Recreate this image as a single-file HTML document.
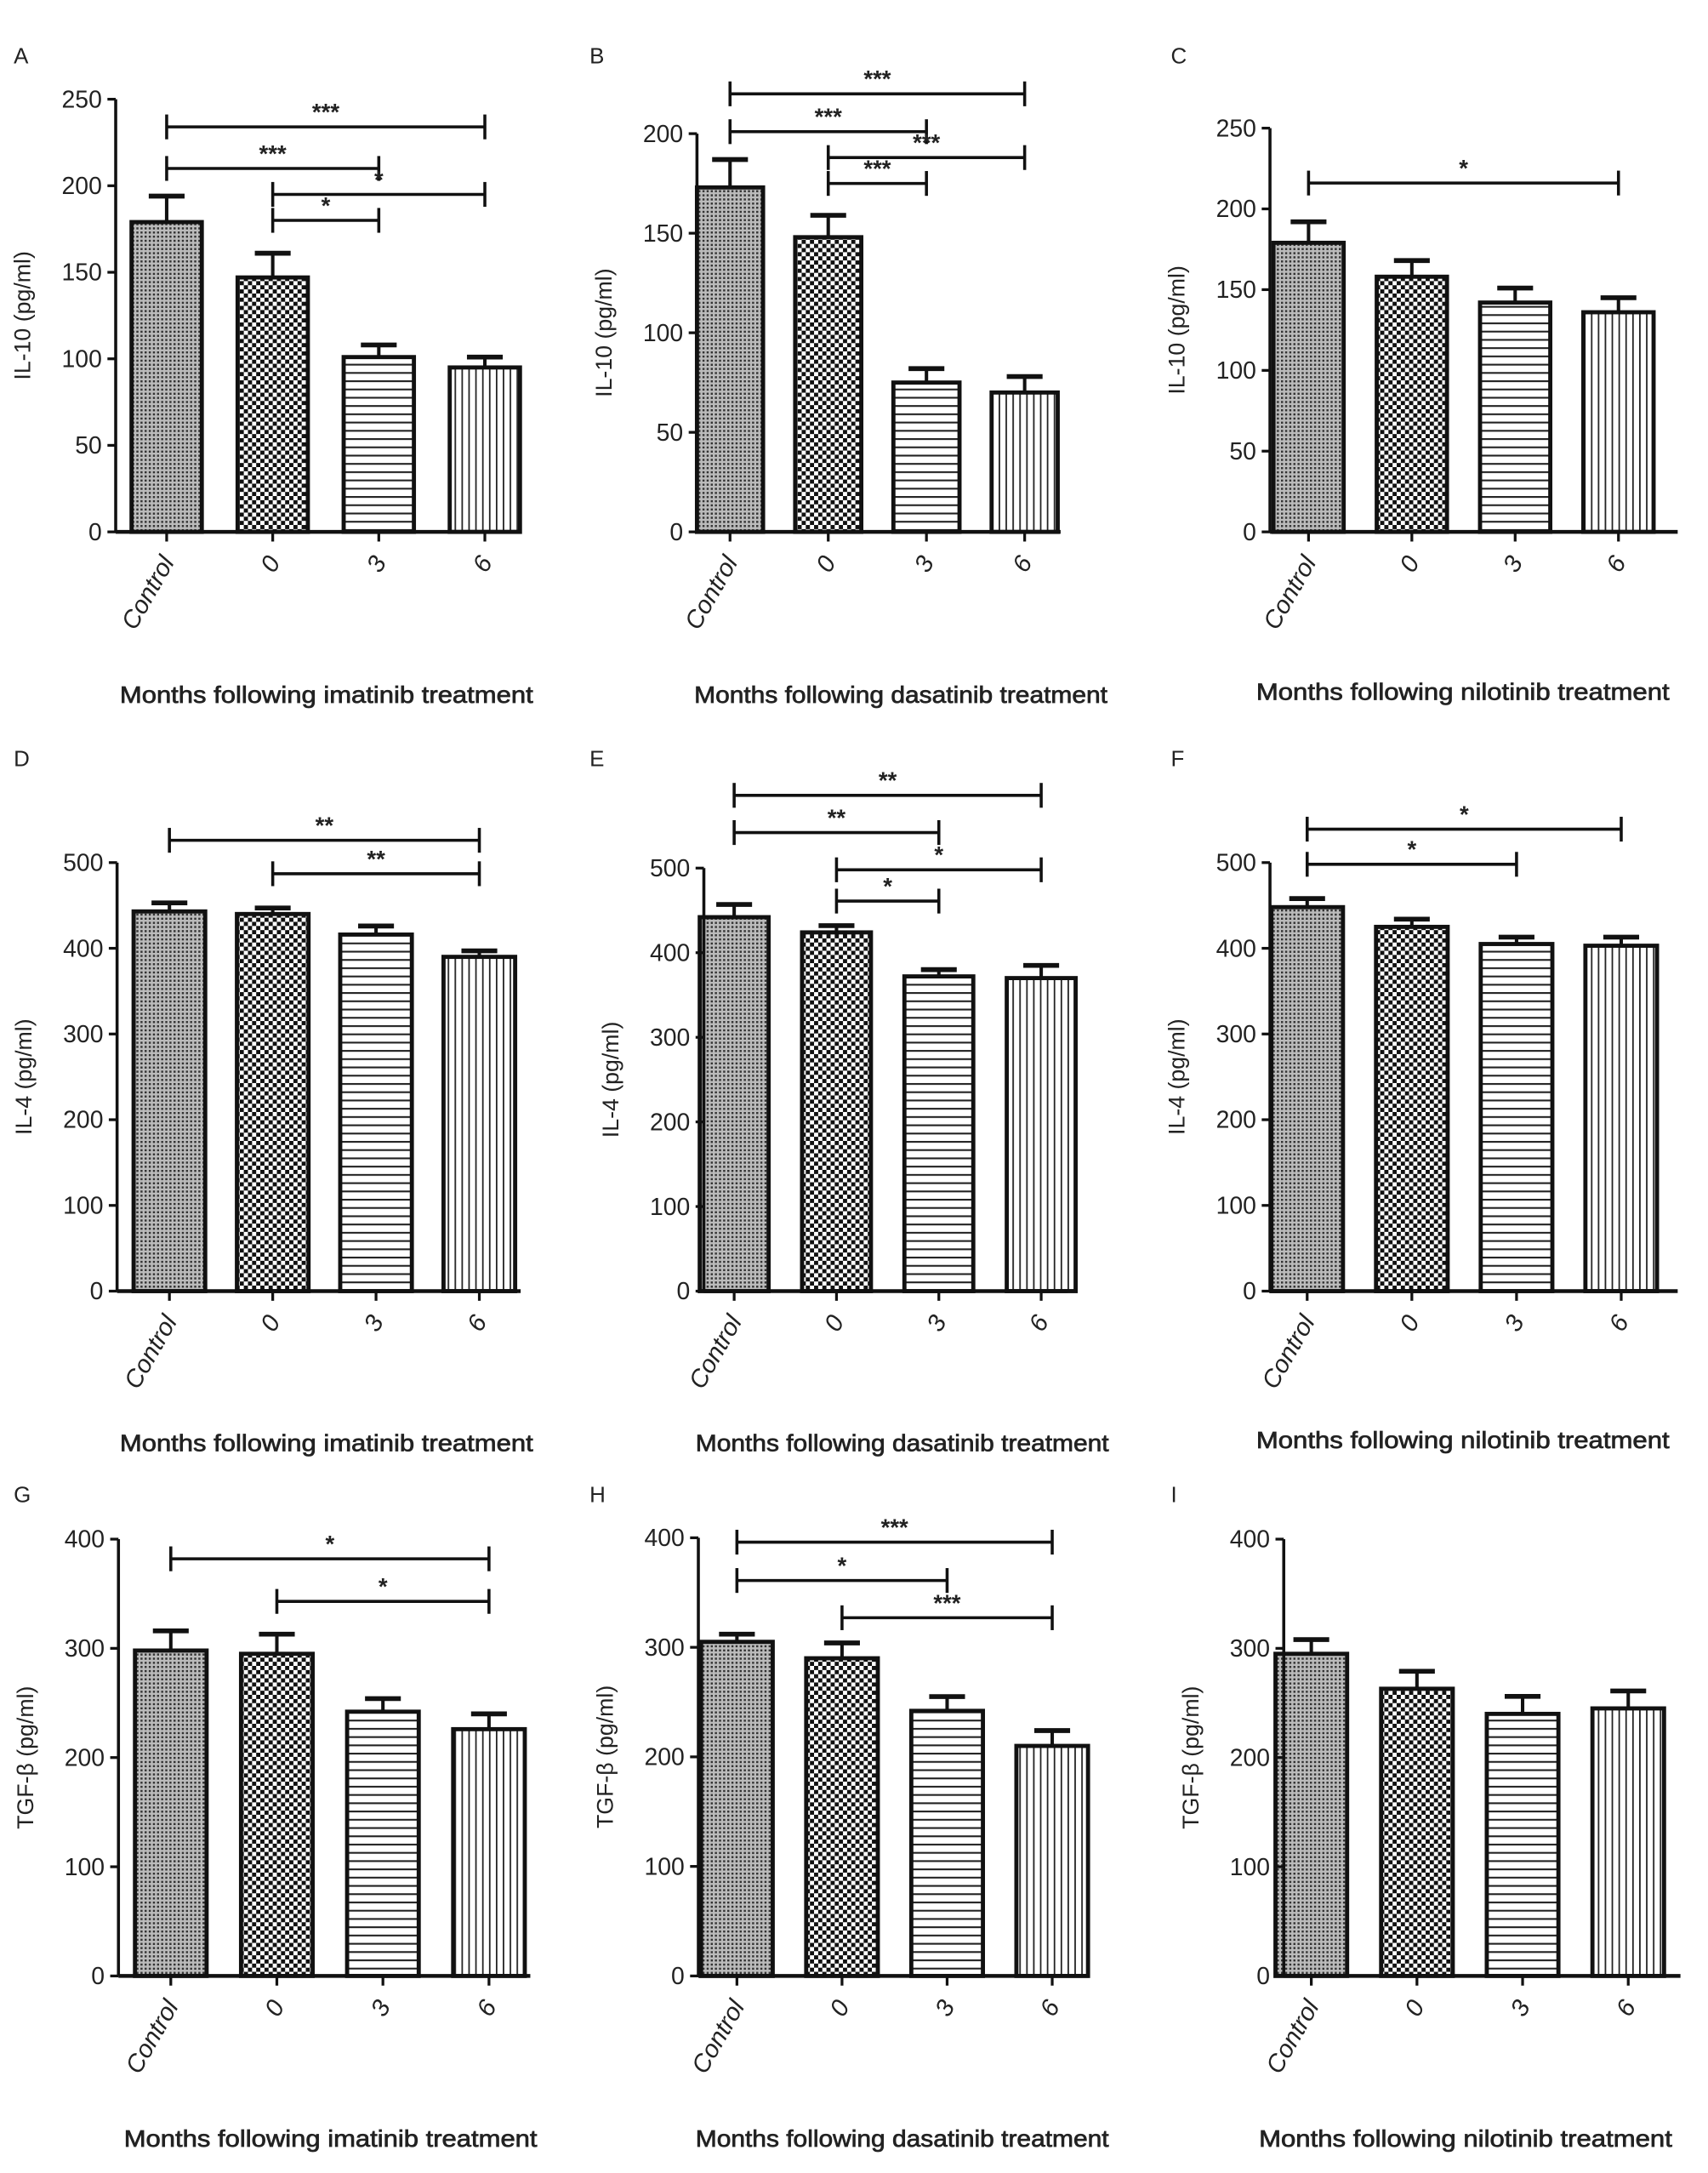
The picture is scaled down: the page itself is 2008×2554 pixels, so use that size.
<!DOCTYPE html>
<html><head><meta charset="utf-8"><style>
html,body{margin:0;padding:0;background:#fff;}
svg{display:block;}
text{font-family:"Liberation Sans",Arial,sans-serif;fill:#222;}
</style></head>
<body>
<svg id="fig" width="2008" height="2554" viewBox="0 0 1240 1577" preserveAspectRatio="none" xmlns="http://www.w3.org/2000/svg">
<defs>
<pattern id="pCtrl" width="3" height="3" patternUnits="userSpaceOnUse"><rect width="3" height="3" fill="#bbb"/><rect width="1.5" height="1.5" fill="#333"/></pattern>
<pattern id="pZero" width="6" height="6" patternUnits="userSpaceOnUse"><rect width="6" height="6" fill="#fff"/><rect width="3" height="3" fill="#111"/><rect x="3" y="3" width="3" height="3" fill="#111"/></pattern>
<pattern id="pThree" width="6" height="6" patternUnits="userSpaceOnUse"><rect width="6" height="6" fill="#fff"/><rect y="0" width="6" height="1.3" fill="#222"/></pattern>
<pattern id="pSix" width="5" height="5" patternUnits="userSpaceOnUse"><rect width="5" height="5" fill="#fff"/><rect x="0" width="1.1" height="5" fill="#222"/></pattern>
</defs>
</svg>
<script>
const categories = ["Control","0","3","6"];
const valsA=[179,147,101,95], errA=[15,14,7,6];
const valsB=[173,148,75,70], errB=[14,11,7,8];
const valsC=[179,158,142,136], errC=[13,10,9,9];
const valsD=[443,440,416,390], errD=[10,7,10,7];
const valsE=[442,424,372,370], errE=[15,8,8,15];
const valsF=[448,425,405,403], errF=[10,9,8,10];
const valsG=[298,295,242,226], errG=[18,18,12,14];
const valsH=[305,290,242,210], errH=[7,14,13,14];
const valsI=[295,263,240,245], errI=[13,16,16,16];
const ticksA=[0,50,100,150,200,250], ticksB=[0,50,100,150,200], ticksC=[0,50,100,150,200,250];
const ticks4=[0,100,200,300,400,500], ticksT=[0,100,200,300,400];
// brackets: [fromIndex, toIndex, yValue, label]
const sigA=[[0,3,234,"***"],[0,2,210,"***"],[1,3,195,"*"],[1,2,180,"*"]];
const sigB=[[0,3,220,"***"],[0,2,201,"***"],[1,3,188,"***"],[1,2,175,"***"]];
const sigC=[[0,3,216,"*"]];
const sigD=[[0,3,526,"**"],[1,3,487,"**"]];
const sigE=[[0,3,586,"**"],[0,2,542,"**"],[1,3,498,"*"],[1,2,461,"*"]];
const sigF=[[0,3,539,"*"],[0,2,498,"*"]];
const sigG=[[0,3,382,"*"],[1,3,343,"*"]];
const sigH=[[0,3,396,"***"],[0,2,361,"*"],[1,3,327,"***"]];
const sigI=[];

const panels=[
 {L:"A",ax:84,y0:386,yTop:72,max:250,xEnd:378,c0:121,dc:77,bw:51,v:valsA,e:errA,t:ticksA,s:sigA,yt:"IL-10 (pg/ml)",xt:"Months following imatinib treatment",lx:10,ly:46,xty:510,xtc:237},
 {L:"B",ax:506,y0:386,yTop:97,max:200,xEnd:770,c0:530,dc:71.3,bw:48,v:valsB,e:errB,t:ticksB,s:sigB,yt:"IL-10 (pg/ml)",xt:"Months following dasatinib treatment",lx:428,ly:46,xty:510,xtc:654},
 {L:"C",ax:922,y0:386,yTop:93,max:250,xEnd:1218,c0:950,dc:75,bw:51,v:valsC,e:errC,t:ticksC,s:sigC,yt:"IL-10 (pg/ml)",xt:"Months following nilotinib treatment",lx:850,ly:46,xty:508,xtc:1062},
 {L:"D",ax:85,y0:937,yTop:626,max:500,xEnd:378,c0:123,dc:75,bw:52,v:valsD,e:errD,t:ticks4,s:sigD,yt:"IL-4 (pg/ml)",xt:"Months following imatinib treatment",lx:10,ly:556,xty:1053,xtc:237},
 {L:"E",ax:511,y0:937,yTop:630,max:500,xEnd:775,c0:533,dc:74.3,bw:50,v:valsE,e:errE,t:ticks4,s:sigE,yt:"IL-4 (pg/ml)",xt:"Months following dasatinib treatment",lx:428,ly:556,xty:1053,xtc:655},
 {L:"F",ax:922,y0:937,yTop:626,max:500,xEnd:1218,c0:949,dc:76,bw:52,v:valsF,e:errF,t:ticks4,s:sigF,yt:"IL-4 (pg/ml)",xt:"Months following nilotinib treatment",lx:850,ly:556,xty:1051,xtc:1062},
 {L:"G",ax:86,y0:1434,yTop:1117,max:400,xEnd:385,c0:124,dc:77,bw:52,v:valsG,e:errG,t:ticksT,s:sigG,yt:"TGF-β (pg/ml)",xt:"Months following imatinib treatment",lx:10,ly:1090,xty:1558,xtc:240},
 {L:"H",ax:507,y0:1434,yTop:1116,max:400,xEnd:790,c0:535,dc:76.3,bw:52,v:valsH,e:errH,t:ticksT,s:sigH,yt:"TGF-β (pg/ml)",xt:"Months following dasatinib treatment",lx:428,ly:1090,xty:1558,xtc:655},
 {L:"I",ax:932,y0:1434,yTop:1117,max:400,xEnd:1220,c0:952,dc:76.7,bw:52,v:valsI,e:errI,t:ticksT,s:sigI,yt:"TGF-β (pg/ml)",xt:"Months following nilotinib treatment",lx:850,ly:1090,xty:1558,xtc:1064}
];
const fills=["url(#pCtrl)","url(#pZero)","url(#pThree)","url(#pSix)"];
const NS="http://www.w3.org/2000/svg";
const svg=document.getElementById("fig");
function mk(tag,attrs,parent,txt){const el=document.createElementNS(NS,tag);for(const k in attrs)el.setAttribute(k,attrs[k]);if(txt!==undefined)el.textContent=txt;parent.appendChild(el);return el;}

panels.forEach(p=>{
 const yS=v=>p.y0-(v/p.max)*(p.y0-p.yTop);
 const xS=i=>p.c0+i*p.dc;
 const g=mk("g",{},svg);
 
 
 const lt=mk("text",{x:p.lx,y:p.ly,"font-size":16},g,p.L);
 
 
 p.v.forEach((v,i)=>{
  const x=xS(i), top=yS(v), et=yS(v+p.e[i]);
  const eb=mk("g",{},g);
  
  
  mk("line",{x1:x,y1:top,x2:x,y2:et,stroke:"#111","stroke-width":2.5},eb);
  mk("line",{x1:x-13,y1:et,x2:x+13,y2:et,stroke:"#111","stroke-width":3.5},eb);
  const r=mk("rect",{x:x-p.bw/2,y:top,width:p.bw,height:p.y0-top,fill:fills[i],stroke:"#111","stroke-width":3},g);
  
  
 });
 const ya=mk("line",{x1:p.ax,y1:p.yTop,x2:p.ax,y2:p.y0,stroke:"#111","stroke-width":2.2},g);
 
 
 const xa=mk("line",{x1:p.ax,y1:p.y0,x2:p.xEnd,y2:p.y0,stroke:"#111","stroke-width":2.8},g);
 
 
 p.t.forEach(t=>{
  const y=yS(t);
  mk("line",{x1:p.ax-6,y1:y,x2:p.ax,y2:y,stroke:"#111","stroke-width":2},g);
  const tl=mk("text",{x:p.ax-10,y:y+6,"font-size":17.5,"text-anchor":"end"},g,t);
  
  
 });
 categories.forEach((c,i)=>{
  const x=xS(i);
  mk("line",{x1:x,y1:p.y0,x2:x,y2:p.y0+7,stroke:"#111","stroke-width":2},g);
  const tl=mk("text",{x:x+6,y:p.y0+22,"font-size":18,"font-style":"italic","text-anchor":"end",transform:`rotate(-60 ${x+6} ${p.y0+22})`},g,c);
  
  
 });
 const ytl=mk("text",{x:0,y:0,"font-size":16.5,"text-anchor":"middle",transform:`translate(${p.ax-62},${(p.y0+p.yTop)/2}) rotate(-90)`},g,p.yt);
 
 
 const xtl=mk("text",{x:p.xtc,y:p.xty,"font-size":17,"text-anchor":"middle",stroke:"#222","stroke-width":0.45,textLength:300,lengthAdjust:"spacingAndGlyphs"},g,p.xt);
 
 
 p.s.forEach(s=>{
  const x1=xS(s[0]),x2=xS(s[1]),y=yS(s[2]);
  const bg=mk("g",{},g);
  
  
  mk("line",{x1:x1,y1:y,x2:x2,y2:y,stroke:"#111","stroke-width":2.2},bg);
  mk("line",{x1:x1,y1:y-9,x2:x1,y2:y+9,stroke:"#111","stroke-width":2.2},bg);
  mk("line",{x1:x2,y1:y-9,x2:x2,y2:y+9,stroke:"#111","stroke-width":2.2},bg);
  mk("text",{x:(x1+x2)/2,y:y-5,"font-size":17,"font-weight":"bold","text-anchor":"middle"},bg,s[3]);
 });
});
</script>
</body></html>
